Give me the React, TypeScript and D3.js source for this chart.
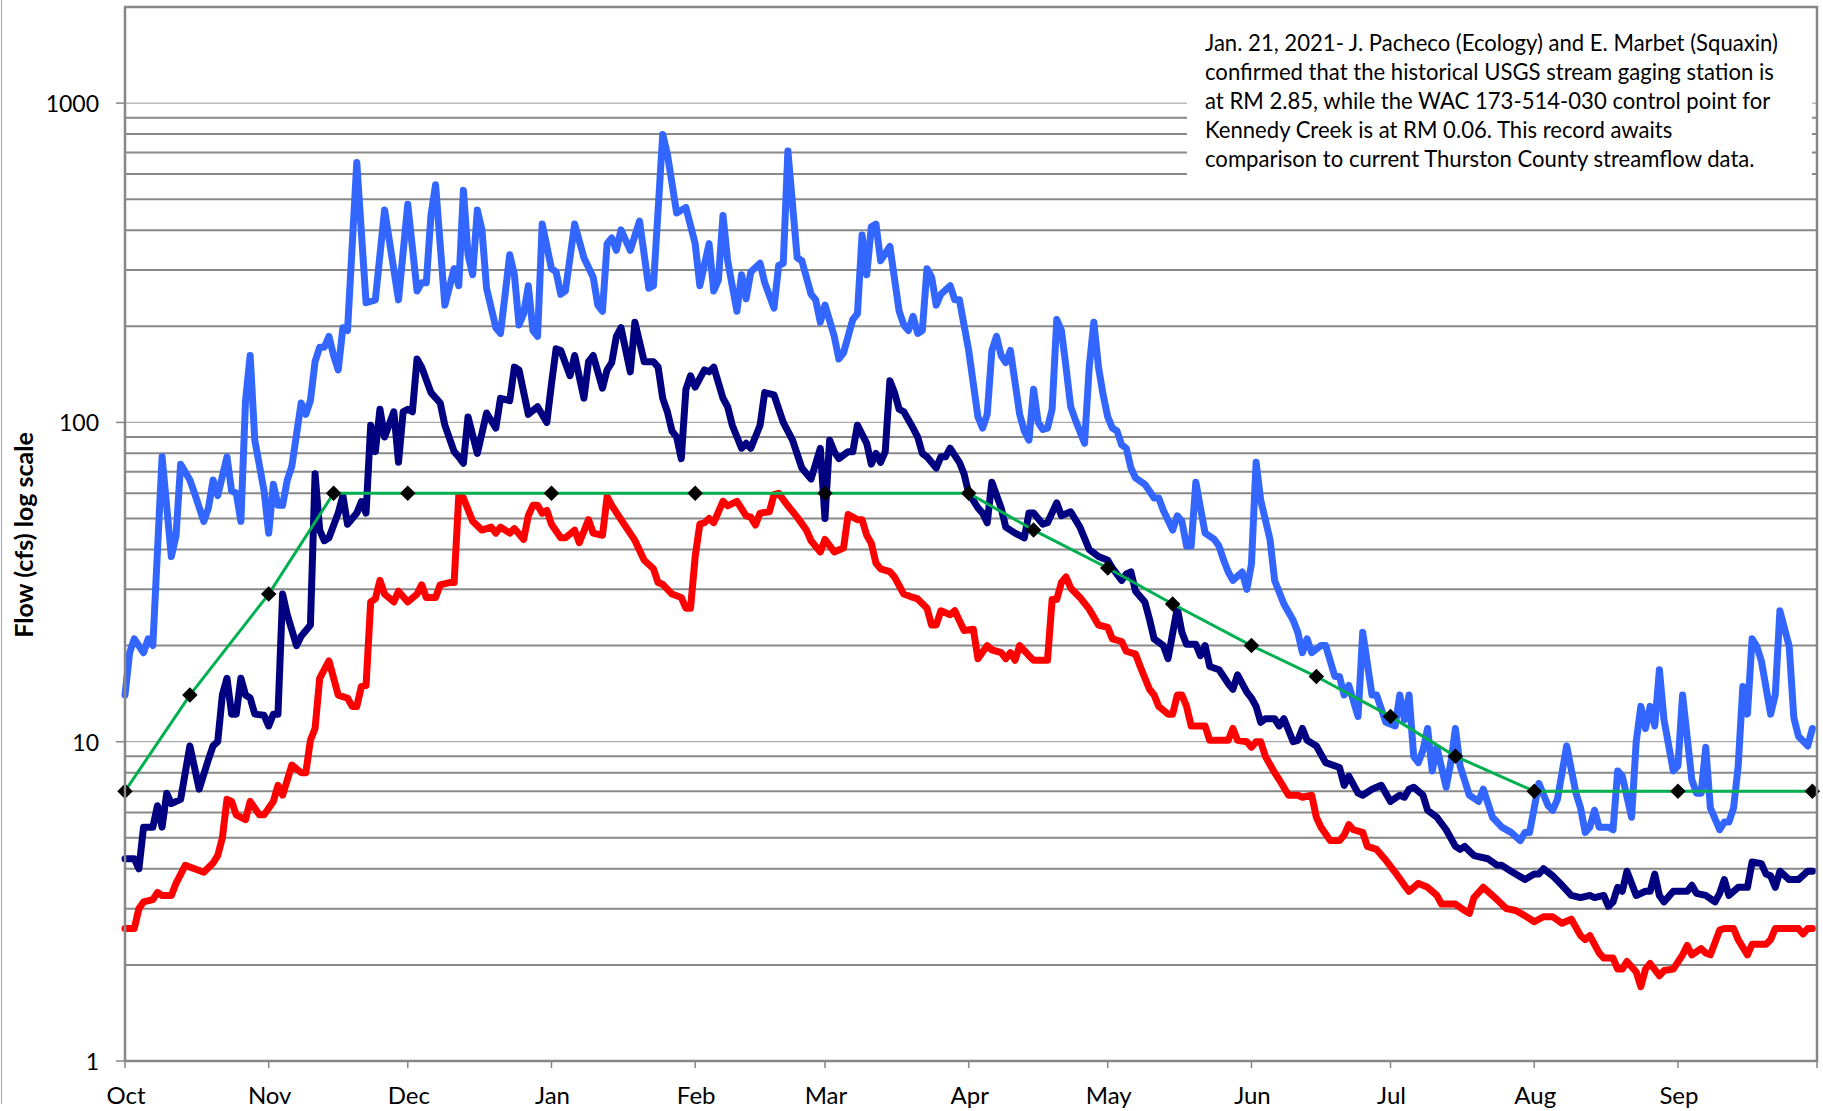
import React, { useEffect, useRef } from "react";
import * as d3 from "d3";

// x values are days counted from Oct 1 of the water year, y values are flow in cfs
const monthLabels = ["Oct", "Nov", "Dec", "Jan", "Feb", "Mar", "Apr", "May", "Jun", "Jul", "Aug", "Sep"];
const monthLengths = [31, 30, 31, 31, 28, 31, 30, 31, 30, 31, 31, 30];
const yTickValues = [1, 10, 100, 1000];

// light blue: daily maximum
const highFlow: [number, number][] = [
  [0, 14], [1, 19], [2, 21], [4, 19], [5, 21], [6, 20], [8, 78], [10, 38], [11, 44], [12, 74],
  [14, 66], [15, 60], [17, 49], [18, 54], [19, 66], [20, 59], [22, 78], [23, 61], [24, 60], [25, 49],
  [26, 117], [27, 162], [28, 88], [30, 61], [31, 45], [32, 64], [33, 55], [34, 55], [35, 66], [36, 73],
  [38, 115], [39, 106], [40, 117], [41, 155], [42, 172], [43, 172], [44, 186], [45, 162], [46, 146], [47, 198],
  [48, 194], [50, 652], [52, 237], [54, 242], [56, 463], [59, 242], [61, 482], [63, 258], [64, 274], [65, 274],
  [66, 445], [67, 555], [69, 233], [71, 303], [72, 268], [73, 533], [74, 335], [75, 290], [76, 463], [77, 401],
  [78, 263], [80, 198], [81, 190], [82, 252], [83, 335], [84, 290], [85, 202], [86, 219], [87, 268], [88, 194],
  [89, 186], [90, 418], [92, 303], [93, 296], [94, 252], [95, 258], [97, 418], [99, 328], [101, 285], [102, 233],
  [103, 223], [104, 363], [105, 378], [106, 346], [107, 401], [109, 346], [111, 427], [113, 263], [114, 268], [116, 798],
  [117, 693], [119, 453], [121, 471], [123, 363], [124, 268], [126, 363], [127, 258], [128, 279], [129, 445], [130, 321],
  [132, 223], [133, 290], [134, 244], [135, 296], [137, 315], [138, 274], [140, 228], [141, 310], [142, 315], [143, 708],
  [145, 328], [146, 321], [148, 252], [149, 242], [150, 206], [151, 233], [153, 186], [154, 158], [155, 165], [157, 210],
  [158, 219], [159, 386], [160, 290], [161, 410], [162, 418], [163, 321], [165, 356], [167, 223], [168, 202], [169, 194],
  [170, 215], [171, 190], [172, 194], [173, 303], [174, 285], [175, 233], [176, 252], [178, 268], [179, 242], [180, 242],
  [182, 168], [184, 104], [185, 96], [186, 106], [187, 168], [188, 186], [189, 162], [190, 154], [191, 168], [193, 106],
  [194, 94], [195, 88], [196, 127], [197, 100], [198, 95], [199, 96], [200, 110], [201, 210], [202, 194], [203, 149],
  [204, 112], [205, 102], [207, 86], [208, 149], [209, 206], [210, 149], [211, 122], [212, 104], [213, 96], [214, 94],
  [215, 85], [216, 83], [217, 72], [218, 67], [220, 64], [221, 61], [222, 58], [223, 58], [224, 53], [226, 46],
  [227, 51], [228, 49], [229, 41], [230, 41], [231, 65], [232, 54], [233, 45], [235, 43], [236, 41], [237, 37],
  [238, 34], [239, 32], [240, 33], [241, 34], [242, 30], [243, 36], [244, 75], [245, 57], [247, 43], [248, 32],
  [250, 27], [252, 24], [253, 22], [254, 19], [255, 21], [256, 19], [258, 20], [259, 20], [261, 16], [262, 16],
  [263, 14], [264, 15], [266, 12], [267, 22], [269, 14], [270, 14], [272, 11.5], [274, 11.2], [275, 14], [276, 11.7],
  [277, 14], [278, 9], [279, 8.6], [280, 9.4], [281, 11], [282, 8.1], [283, 9.6], [285, 7.2], [286, 8.6], [287, 11],
  [288, 8.4], [290, 6.8], [292, 6.5], [293, 7.1], [295, 5.8], [297, 5.4], [299, 5.2], [301, 4.9], [302, 5.2], [303, 5.2],
  [305, 7.4], [307, 6.3], [308, 6.1], [309, 6.6], [311, 9.7], [313, 6.9], [314, 6.2], [315, 5.2], [316, 5.4], [317, 6.1],
  [318, 5.4], [320, 5.4], [321, 5.3], [322, 8.1], [323, 7.8], [325, 5.8], [326, 10], [327, 12.9], [328, 11], [329, 12.9],
  [330, 11.2], [331, 16.8], [332, 11.7], [334, 8.1], [335, 8.4], [336, 14], [338, 7.6], [339, 6.9], [340, 6.9], [341, 9.6],
  [342, 6.2], [344, 5.3], [345, 5.6], [346, 5.6], [347, 6.2], [348, 8.4], [349, 14.9], [350, 12.2], [351, 21], [352, 19.9],
  [353, 17.9], [355, 12.2], [356, 14], [357, 25.7], [359, 19.9], [360, 11.9], [361, 10.4], [363, 9.7], [364, 11],
];

// navy: daily median
const medianFlow: [number, number][] = [
  [0, 4.3], [2, 4.3], [3, 4.0], [4, 5.4], [6, 5.4], [7, 6.3], [8, 5.4], [9, 6.9], [10, 6.4], [12, 6.6],
  [14, 9.7], [16, 7.1], [18, 8.8], [19, 9.7], [20, 10], [21, 14], [22, 15.8], [23, 12.2], [24, 12.2], [25, 15.8],
  [26, 14], [27, 13.7], [28, 12.2], [30, 12.1], [31, 11.2], [32, 12.2], [33, 12.2], [34, 29], [35, 25], [37, 20],
  [38, 21.4], [40, 23.2], [41, 69], [42, 46], [43, 42.6], [44, 43.5], [46, 52], [47, 59], [48, 48], [50, 52],
  [51, 56.5], [52, 52], [53, 98], [54, 81], [55, 110], [56, 90], [58, 108], [59, 75], [60, 108], [61, 110],
  [62, 108], [63, 158], [64, 149], [66, 124], [68, 115], [69, 98], [71, 81], [72, 78], [73, 74.5], [74, 104],
  [76, 80], [78, 107], [80, 96], [81, 119], [83, 117], [84, 149], [85, 146], [87, 106], [89, 112], [91, 100],
  [92, 132], [93, 170], [94, 168], [96, 140], [97, 162], [99, 119], [100, 155], [101, 162], [103, 128], [104, 146],
  [105, 154], [106, 186], [107, 198], [109, 144], [110, 206], [112, 155], [114, 155], [115, 149], [116, 119], [117, 108],
  [118, 94], [119, 90], [120, 77], [121, 127], [122, 140], [123, 129], [125, 146], [126, 144], [127, 149], [129, 119],
  [130, 112], [131, 98], [133, 83], [134, 86], [135, 83], [137, 98], [138, 124], [140, 122], [142, 100], [144, 88],
  [146, 72], [148, 66.5], [150, 83], [151, 50], [152, 88], [153, 81], [154, 77], [156, 81], [157, 81], [158, 98],
  [160, 86], [161, 74], [162, 80], [163, 75], [164, 81], [165, 135], [166, 124], [167, 110], [168, 108], [170, 96],
  [171, 90], [172, 80], [173, 78], [175, 72], [176, 78], [177, 78], [178, 83], [180, 75], [181, 69], [182, 60],
  [184, 54], [185, 52], [186, 48.5], [187, 65], [189, 54], [190, 47], [192, 45], [194, 43.5], [195, 52], [196, 52],
  [198, 48], [199, 48.5], [201, 56], [202, 51], [204, 52.5], [206, 47], [208, 40], [210, 38], [212, 37], [213, 35],
  [215, 32], [216, 33.5], [217, 34], [218, 29.6], [220, 27.4], [221, 24.2], [222, 21], [224, 20], [225, 18.2], [227, 26.2],
  [228, 22], [229, 20.2], [231, 20.2], [232, 18.6], [233, 20], [234, 17.2], [236, 16.8], [238, 15.2], [239, 14.6], [240, 16.2],
  [242, 14.3], [243, 13.7], [244, 12.9], [245, 11.5], [246, 11.8], [248, 11.8], [249, 11.2], [250, 11.8], [252, 10], [253, 10.1],
  [254, 11], [255, 10.1], [257, 9.7], [259, 8.6], [262, 8.3], [263, 7.3], [264, 7.8], [266, 6.9], [267, 6.8], [269, 7.1],
  [271, 7.3], [273, 6.5], [275, 6.8], [276, 6.7], [277, 7.1], [278, 7.2], [280, 6.8], [281, 6.1], [283, 5.8], [285, 5.3],
  [287, 4.7], [288, 4.6], [289, 4.7], [291, 4.4], [294, 4.3], [296, 4.1], [297, 4.1], [299, 3.93], [302, 3.7], [304, 3.85],
  [305, 3.85], [306, 4.0], [308, 3.8], [310, 3.55], [312, 3.3], [314, 3.25], [316, 3.3], [317, 3.25], [319, 3.3], [320, 3.05],
  [321, 3.15], [322, 3.5], [323, 3.4], [324, 3.93], [326, 3.3], [328, 3.4], [329, 3.4], [330, 3.85], [331, 3.3], [332, 3.15],
  [334, 3.4], [337, 3.4], [338, 3.55], [339, 3.35], [341, 3.3], [343, 3.15], [344, 3.35], [345, 3.7], [346, 3.3], [348, 3.5],
  [350, 3.5], [351, 4.2], [353, 4.15], [354, 3.85], [355, 3.8], [356, 3.5], [357, 3.93], [359, 3.7], [361, 3.7], [363, 3.93],
  [364, 3.93],
];

// red: daily minimum
const lowFlow: [number, number][] = [
  [0, 2.6], [2, 2.6], [3, 3.0], [4, 3.15], [6, 3.2], [7, 3.37], [8, 3.3], [10, 3.3], [11, 3.6], [13, 4.1],
  [15, 4.0], [17, 3.9], [19, 4.17], [20, 4.4], [21, 5.0], [22, 6.6], [23, 6.5], [24, 5.9], [26, 5.7], [27, 6.5],
  [29, 5.9], [30, 5.9], [32, 6.5], [33, 7.3], [34, 6.8], [36, 8.45], [38, 8.0], [39, 8.0], [40, 10.1], [41, 11],
  [42, 15.8], [44, 17.9], [46, 14], [48, 13.7], [49, 12.9], [50, 12.9], [51, 14.9], [52, 15], [53, 27.4], [54, 28],
  [55, 32], [56, 29], [58, 27.4], [59, 29.6], [61, 27.4], [63, 29], [64, 31], [65, 28.3], [67, 28.3], [68, 31],
  [70, 31.5], [71, 31.5], [72, 59], [73, 58], [75, 49], [77, 46], [79, 47], [80, 45], [81, 47], [83, 45],
  [84, 46.5], [86, 43], [87, 51], [88, 55], [89, 55], [90, 52], [91, 53], [92, 48], [94, 43.5], [95, 43.5],
  [97, 46], [98, 42], [100, 49.6], [101, 45], [103, 44.3], [104, 58.5], [105, 55], [107, 49.6], [110, 42.7], [112, 37],
  [114, 34.8], [115, 31.5], [116, 31.1], [118, 29], [120, 28.3], [121, 26.2], [122, 26.2], [123, 38], [124, 48], [125, 48.5],
  [126, 50], [127, 48.5], [129, 56.6], [130, 54.8], [132, 56.6], [134, 51], [135, 50.5], [136, 47.7], [137, 52], [139, 52.5],
  [140, 59.4], [141, 60], [143, 54.8], [145, 50.5], [147, 46], [148, 42.6], [150, 39.3], [151, 43], [153, 39.3], [155, 40.4],
  [156, 51.5], [158, 49.6], [159, 49.6], [160, 44.3], [161, 41.8], [162, 36.2], [163, 34.8], [165, 34.1], [166, 32.8], [168, 29],
  [170, 28.3], [171, 28], [173, 26.2], [174, 23.2], [175, 23.2], [176, 25.7], [178, 25], [179, 25.7], [181, 22.3], [183, 22.5],
  [184, 18.2], [186, 20], [187, 19.4], [189, 19], [190, 18.2], [191, 19], [192, 18], [193, 20], [195, 18.6], [196, 18],
  [199, 18], [200, 27.9], [201, 27.9], [202, 31.5], [203, 32.8], [204, 30.3], [206, 28.3], [208, 26], [210, 23.2], [212, 22.8],
  [213, 21], [215, 20.6], [216, 19.2], [218, 18.8], [219, 17.2], [221, 14.6], [222, 14], [223, 12.9], [225, 12.2], [226, 12.2],
  [227, 14], [228, 14], [229, 12.9], [230, 11.2], [233, 11.2], [234, 10.1], [238, 10.1], [239, 11], [240, 10.1], [242, 10],
  [243, 9.6], [244, 10], [245, 10], [246, 9], [248, 8], [249, 7.6], [251, 6.8], [253, 6.8], [254, 6.7], [256, 6.8],
  [257, 5.8], [258, 5.4], [260, 4.9], [262, 4.9], [263, 5.1], [264, 5.5], [265, 5.3], [267, 5.2], [268, 4.7], [270, 4.6],
  [272, 4.25], [274, 3.9], [276, 3.55], [277, 3.4], [279, 3.6], [281, 3.5], [283, 3.3], [284, 3.1], [287, 3.1], [289, 2.96],
  [290, 2.9], [291, 3.25], [293, 3.5], [294, 3.4], [296, 3.2], [298, 3.0], [300, 2.96], [302, 2.85], [304, 2.73], [306, 2.83],
  [308, 2.83], [310, 2.7], [312, 2.78], [314, 2.47], [315, 2.4], [316, 2.47], [318, 2.18], [319, 2.1], [321, 2.1], [322, 1.94],
  [323, 1.94], [324, 2.05], [326, 1.9], [327, 1.71], [328, 1.94], [329, 2.02], [331, 1.85], [332, 1.92], [334, 1.94], [336, 2.15],
  [337, 2.3], [338, 2.15], [340, 2.25], [341, 2.18], [342, 2.15], [344, 2.57], [345, 2.6], [347, 2.6], [348, 2.4], [350, 2.15],
  [351, 2.32], [354, 2.32], [355, 2.4], [356, 2.6], [361, 2.6], [362, 2.5], [363, 2.6], [364, 2.6],
];

// green: control point instream flows (diamond markers)
const instreamFlow: [number, number][] = [
  [0, 7], [14, 14], [31, 29], [45, 60], [61, 60], [92, 60], [123, 60], [151, 60], [182, 60], [196, 46],
  [212, 35], [226, 27], [243, 20], [257, 16], [273, 12], [287, 9], [304, 7], [335, 7], [364, 7],
];

const noteLines = [
  "Jan. 21, 2021- J. Pacheco (Ecology) and E. Marbet (Squaxin)",
  "confirmed that the historical USGS stream gaging station is",
  "at RM 2.85, while the WAC 173-514-030 control point for",
  "Kennedy Creek is at RM 0.06. This record awaits",
  "comparison to current Thurston County streamflow data.",
];

const FONT = "Lato, 'Open Sans', sans-serif";

const App = () => {
  const svgRef = useRef<SVGSVGElement>(null);

  useEffect(() => {
    document.body.style.margin = "0";
    const svg = d3.select(svgRef.current);
    svg.selectAll("*").remove();

    const x = d3.scaleLinear().domain([0, 365]).range([125, 1817]);
    const y = d3.scaleLog().domain([1, 2000]).range([1061, 7]);

    // outer chart edge
    svg.append("line")
      .attr("x1", 1.5).attr("x2", 1.5).attr("y1", 0).attr("y2", 1104)
      .attr("stroke", "#b0b0b0").attr("stroke-width", 1.2);

    // gridlines: minor (2..9) darker and thicker, decades thin and light
    const minorVals: number[] = [];
    [1, 10, 100].forEach((k) => d3.range(2, 10).forEach((m) => minorVals.push(k * m)));
    svg.append("g").selectAll("line").data(minorVals).join("line")
      .attr("x1", x(0)).attr("x2", x(365))
      .attr("y1", (d) => y(d)).attr("y2", (d) => y(d))
      .attr("stroke", "#898989").attr("stroke-width", 2);
    svg.append("g").selectAll("line").data([10, 100, 1000]).join("line")
      .attr("x1", x(0)).attr("x2", x(365))
      .attr("y1", (d) => y(d)).attr("y2", (d) => y(d))
      .attr("stroke", "#ababab").attr("stroke-width", 1.2);

    // note box
    svg.append("rect")
      .attr("x", 1187).attr("y", 10).attr("width", 625).attr("height", 180)
      .attr("fill", "#fff");
    svg.append("g").selectAll("text").data(noteLines).join("text")
      .attr("x", 1205).attr("y", (d, i) => 51 + i * 29)
      .attr("font-family", FONT).attr("font-size", 22.1).attr("fill", "#000")
      .text((d) => d);

    // series
    const line = d3.line<[number, number]>().x((d) => x(d[0])).y((d) => y(d[1]));
    const series: [[number, number][], string][] = [
      [highFlow, "#3366ff"],
      [medianFlow, "#000080"],
      [lowFlow, "#ff0000"],
    ];
    series.forEach(([data, color]) => {
      svg.append("path")
        .attr("d", line(data))
        .attr("fill", "none").attr("stroke", color).attr("stroke-width", 7)
        .attr("stroke-linejoin", "round").attr("stroke-linecap", "round");
    });

    svg.append("path")
      .attr("d", line(instreamFlow))
      .attr("fill", "none").attr("stroke", "#00b050").attr("stroke-width", 3);
    const diamond = d3.symbol().type(d3.symbolSquare).size(120);
    svg.append("g").selectAll("path").data(instreamFlow).join("path")
      .attr("d", diamond())
      .attr("transform", (d) => `translate(${x(d[0])},${y(d[1])}) rotate(45)`)
      .attr("fill", "#000");

    // plot frame
    svg.append("rect")
      .attr("x", x(0)).attr("y", y(2000)).attr("width", x(365) - x(0)).attr("height", y(1) - y(2000))
      .attr("fill", "none").attr("stroke", "#878787").attr("stroke-width", 2.5);

    // y ticks and labels
    svg.append("g").selectAll("line").data(yTickValues).join("line")
      .attr("x1", x(0) - 9).attr("x2", x(0))
      .attr("y1", (d) => y(d)).attr("y2", (d) => y(d))
      .attr("stroke", "#878787").attr("stroke-width", 1.5);
    svg.append("g").selectAll("text").data(yTickValues).join("text")
      .attr("x", 99).attr("y", (d) => y(d))
      .attr("text-anchor", "end").attr("dominant-baseline", "central")
      .attr("font-family", FONT).attr("font-size", 23).attr("fill", "#000")
      .text((d) => String(d));

    // x ticks at month boundaries
    const monthStarts = [0, ...d3.cumsum(monthLengths)];
    svg.append("g").selectAll("line").data(monthStarts).join("line")
      .attr("x1", (d) => x(d)).attr("x2", (d) => x(d))
      .attr("y1", y(1)).attr("y2", y(1) + 7)
      .attr("stroke", "#878787").attr("stroke-width", 1.5);
    svg.append("g").selectAll("text").data(monthLabels).join("text")
      .attr("x", (d, i) => x(monthStarts[i]) + 1).attr("y", 1104)
      .attr("text-anchor", "middle")
      .attr("font-family", FONT).attr("font-size", 24).attr("fill", "#000")
      .text((d) => d);

    // y axis title
    svg.append("text")
      .attr("transform", "translate(23,535) rotate(-90)")
      .attr("text-anchor", "middle").attr("dominant-baseline", "central")
      .attr("font-family", FONT).attr("font-weight", "bold").attr("font-size", 25).attr("fill", "#000")
      .text("Flow (cfs) log scale");
  }, []);

  return (
    <svg
      ref={svgRef}
      width={1823}
      height={1111}
      style={{ display: "block", background: "#fff" }}
    />
  );
};

export default App;
